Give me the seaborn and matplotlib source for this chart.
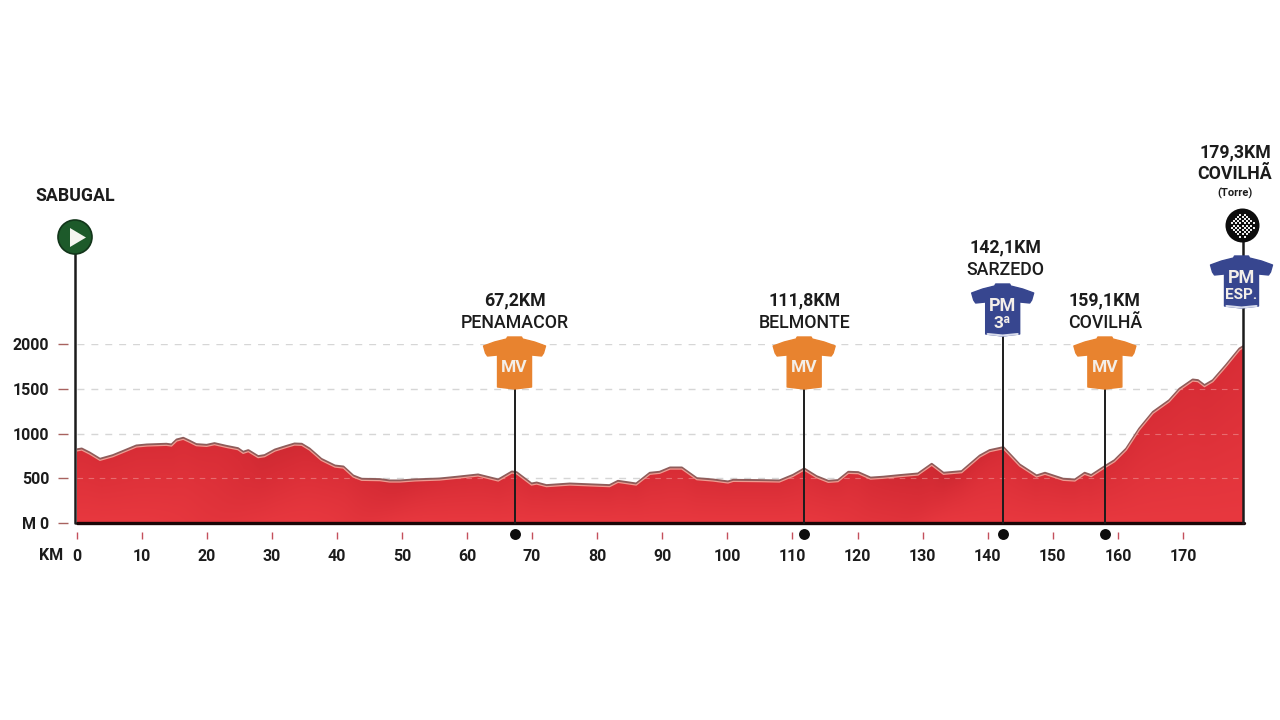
#!/usr/bin/env python
"""Stage profile Sabugal - Covilha (Torre)."""

import matplotlib
matplotlib.use("Agg")
import matplotlib.pyplot as plt
import numpy as np
import pandas as pd
import seaborn as sns
from matplotlib.colors import LinearSegmentedColormap
from matplotlib.patches import Circle, Polygon

# --- profile ---
profile_km = [
    0, 0.8, 2, 3.6, 5.6, 7.7, 9.2, 10.8, 13.8, 14.6, 15.4, 16.4, 17.4, 18.4, 20, 21.2, 23, 24.8,
    25.6, 26.4, 27.9, 28.9, 30.5, 32.3, 33.5, 34.6, 35.8, 37.6, 39.7, 41, 42.5, 43.8, 46.6, 48.1,
    49.7, 52, 55.8, 58.4, 61.7, 64.8, 66.9, 67.6, 69.9, 70.7, 72.2, 75.8, 81.9, 83.2, 86, 88.1,
    89.6, 91.2, 93, 95.3, 97.8, 100.1, 100.9, 105, 108, 110.1, 111.8, 113.7, 115.5, 117, 118.6,
    120.1, 122, 124, 126.5, 129.3, 131.4, 133.2, 136, 138.8, 140.3, 142.4, 144.9, 147.5, 148.8,
    151.6, 153.4, 154.9, 155.9, 158, 159.5, 161.3, 163.3, 165.4, 167.9, 169.5, 171.5, 172.3, 173.3,
    174.6, 176.6, 178.7, 179.3,
]
profile_m = [
    820, 830, 786, 715, 756, 819, 864, 875, 883, 875, 931, 950, 916, 879, 871, 890, 860, 834,
    793, 812, 745, 756, 819, 860, 886, 883, 830, 715, 640, 629, 529, 492, 488, 473,
    473, 485, 495, 514, 540, 484, 573, 566, 439, 450, 421, 439, 421, 469, 439, 559,
    570, 618, 618, 499, 484, 462, 480, 477, 473, 536, 607, 521, 469, 477, 570,
    566, 505, 515, 533, 551, 659, 559, 577, 752, 812, 845, 652, 529, 559,
    492, 484, 559, 533, 633, 700, 830, 1054, 1240, 1370, 1500, 1601, 1594, 1538,
    1594, 1761, 1948, 1975,
]

km_ticks = list(range(0, 180, 10))
m_ticks = [0, 500, 1000, 1500, 2000]
m_labels = ["M 0", "500", "1000", "1500", "2000"]

stop_km = [67.3, 111.8, 142.3, 158.0]
stop_dist = ["67,2KM", "111,8KM", "142,1KM", "159,1KM"]
stop_name = ["PENAMACOR", "BELMONTE", "SARZEDO", "COVILHÃ"]
stop_jersey = ["MV", "MV", "PM 3ª", "MV"]

FINISH_KM = 179.3
DOT_Y = -125

ORANGE = "#e8832f"
BLUE = "#37468f"
INK = "#1c1c1c"

# jersey outline, px relative to top centre of the collar
JERSEY = np.array([
    (-7, 0), (-8, 2), (-20, 5), (-31, 9), (-29, 16), (-27, 19), (-17, 18), (-17, 50), (0, 52),
    (17, 50), (17, 18), (27, 19), (29, 16), (31, 9), (20, 5), (8, 2), (7, 0),
])

# darker diagonal patches of the relief texture: km at the base, width in km
relief_km = [22, 44, 122, 128]
relief_w = [7, 5, 6, 4]


def draw_jersey(deco, cx, top, color, lines, band=False):
    deco.add_patch(Polygon(JERSEY + (cx, top), closed=True, fc=color, ec=color, lw=1, zorder=6,
                           joinstyle="round"))
    if band:
        deco.plot([cx - 15, cx, cx + 15], [top + 50, top + 51.5, top + 50], color="#d8dcec", lw=1.5, zorder=7)
    for text, dy, size in lines:
        deco.text(cx, top + dy, text, color="#f4efe9", fontsize=size, fontweight="bold",
                  ha="center", va="center", zorder=7)


def main() -> None:
    sns.set_theme(style="white")
    plt.rcParams["font.family"] = ["Roboto", "DejaVu Sans"]

    df = pd.DataFrame({"km": profile_km, "m": profile_m})

    fig = plt.figure(figsize=(12.8, 7.2), dpi=100, facecolor="white")
    left, right, bottom, top = 76.5, 1243.5, 523, 344
    ax = fig.add_axes([left / 1280, 1 - bottom / 720, (right - left) / 1280, (bottom - top) / 720])
    ax.set_facecolor("none")

    ax.yaxis.grid(True, color="#d6d6d6", lw=1, ls=(0, (5, 5)))
    ax.set_axisbelow(True)

    # red body, darker towards the ridge plus a few diagonal relief patches
    poly = ax.fill_between(df["km"], df["m"], 0, color="none", zorder=2)
    xg = np.linspace(0, FINISH_KM, 500)
    yg = np.linspace(2000, 0, 300)
    xx, yy = np.meshgrid(xg, yg)
    shade = 1 - np.clip(yy / np.interp(xx, df["km"], df["m"]), 0, 1) * 0.5
    for k0, w in zip(relief_km, relief_w):
        shade -= 0.16 * np.exp(-(((xx - k0 - yy * 0.012) / w) ** 2))
    cmap = LinearSegmentedColormap.from_list("body", ["#c0242c", "#d82d36", "#e8383f"])
    img = ax.imshow(np.clip(shade, 0, 1), cmap=cmap, vmin=0, vmax=1, aspect="auto",
                    extent=(0, FINISH_KM, 0, 2000), zorder=2)
    img.set_clip_path(poly.get_paths()[0], transform=ax.transData)
    ax.set_xlim(0, FINISH_KM)
    ax.set_ylim(0, 2000)

    lines = ax.hlines([500, 1000, 1500], 0, FINISH_KM, color="#f2a6a6", lw=0.8, ls=(0, (5, 5)),
                      alpha=0.5, zorder=3)
    lines.set_clip_path(poly.get_paths()[0], transform=ax.transData)

    sns.lineplot(data=df, x="km", y="m", ax=ax, color="#8f5c5a", lw=1.7, zorder=4, solid_joinstyle="round")
    ax.plot(df["km"], df["m"] - 15, color="#ee9c92", lw=0.9, zorder=4, solid_joinstyle="round")

    # baseline
    ax.axhline(0, color="#1a0606", lw=2.4, zorder=5, clip_on=False)

    for name in ["top", "right", "left", "bottom"]:
        ax.spines[name].set_visible(False)
    ax.spines["left"].set_position(("outward", 6.1))
    ax.spines["bottom"].set_position(("outward", 6.3))

    ax.set_xticks(km_ticks)
    ax.set_xticklabels(km_ticks)
    ax.set_yticks(m_ticks)
    ax.set_yticklabels(m_labels)
    ax.tick_params(axis="x", bottom=True, length=5, width=1, color="#c4505c", pad=7.5,
                   labelsize=11.5, labelcolor=INK)
    ax.tick_params(axis="y", left=True, length=7, width=1, color="#a8625f", pad=6.5,
                   labelsize=11.5, labelcolor=INK)
    for lab in ax.get_xticklabels() + ax.get_yticklabels():
        lab.set_fontweight("bold")
    ax.set_xlabel("")
    ax.set_ylabel("")

    sns.scatterplot(x=stop_km, y=[DOT_Y] * len(stop_km), ax=ax, color="#0c0c0c", s=62,
                    clip_on=False, zorder=6, linewidth=0)

    # overlay in pixel coordinates for the labels and icons
    deco = fig.add_axes([0, 0, 1, 1], facecolor="none")
    deco.set_xlim(0, 1280)
    deco.set_ylim(720, 0)
    deco.axis("off")

    def km_px(km):
        return left + km * (right - left) / FINISH_KM

    def head(x, y, text, weight="bold", size=12.8):
        deco.text(x, y, text, color=INK, fontsize=size, fontweight=weight, ha="center", va="center")

    deco.text(51, 556, "KM", color=INK, fontsize=11.5, fontweight="bold", ha="center", va="center")

    # start
    deco.plot([75, 75], [250, 523], color=INK, lw=1.8, zorder=3)
    deco.add_patch(Circle((75, 237), 17, fc="#1d5a2a", ec="#12351a", lw=1.2, zorder=6))
    deco.add_patch(Polygon([(70, 228), (70, 247), (86, 237.5)], closed=True, fc="#f5f5f0", ec="none", zorder=7))
    head(75, 196, "SABUGAL")

    # intermediate points
    stop_px = [km_px(k) for k in stop_km]
    jersey_top = [337, 337, 284, 337]
    for x, t, dist, name, kind in zip(stop_px, jersey_top, stop_dist, stop_name, stop_jersey):
        deco.plot([x, x], [t + 50, 523], color=INK, lw=1.4, zorder=3)
        text_x = x + 3 if kind != "MV" else x
        head(text_x, t - 37, dist)
        head(text_x, t - 14, name, weight="medium")
        if kind == "MV":
            draw_jersey(deco, x, t, ORANGE, [("MV", 30, 12.5)])
        else:
            draw_jersey(deco, x, t, BLUE, [("PM", 22, 13), ("3ª", 39, 12.5)], band=True)

    # finish
    fx = km_px(FINISH_KM) - 1
    deco.plot([fx, fx], [240, 523], color=INK, lw=1.8, zorder=3)
    draw_jersey(deco, fx - 1, 256, BLUE, [("PM", 22, 13), ("ESP.", 39, 11)], band=True)
    deco.add_patch(Circle((fx, 225.5), 17, fc="#0d0d0d", ec="none", zorder=6))
    ii, jj = np.meshgrid(np.arange(-5, 6), np.arange(-5, 6))
    keep = (ii ** 2 + jj ** 2 <= 26) & ((ii + jj) % 2 == 0)
    deco.scatter(ii[keep] * 2.2 + fx, jj[keep] * 2.2 + 225.5, marker="s", s=2.4, color="#ececec", lw=0, zorder=7)
    head(1235, 152, "179,3KM")
    head(1235, 174, "COVILHÃ")
    head(1235, 193, "(Torre)", size=8)

    fig.savefig("out.png", dpi=100, facecolor="white")
    plt.close(fig)


if __name__ == "__main__":
    main()
